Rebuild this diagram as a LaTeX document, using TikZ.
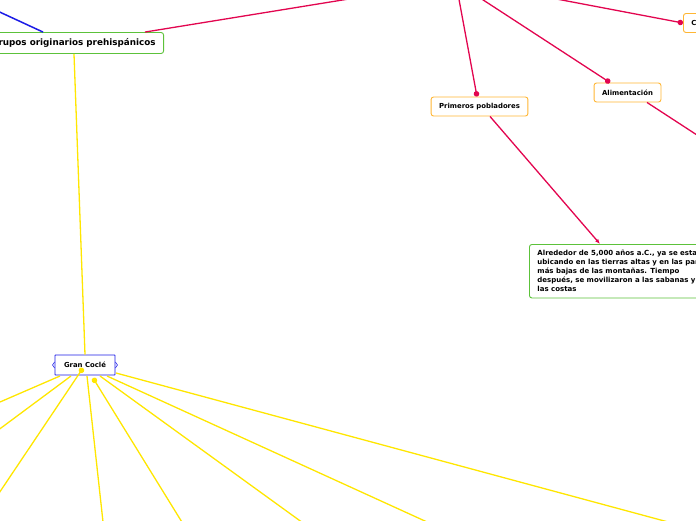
\documentclass[tikz,border=0pt]{standalone}
\usepackage{fontspec}
\setmainfont{DejaVu Sans}
\usetikzlibrary{arrows.meta}
\definecolor{crimson}{HTML}{E2054F}
\definecolor{amber}{HTML}{FFB633}
\definecolor{leaf}{HTML}{5CC23A}
\definecolor{royal}{HTML}{1C1CE6}
\definecolor{lemon}{HTML}{FFE600}

\begin{document}
\begin{tikzpicture}[x=1pt,y=-1pt,font=\bfseries,
  topic/.style={draw,rounded corners=2.5pt,fill=white,line width=0.9pt,inner xsep=8pt,minimum height=19pt,font=\bfseries\fontsize{6.9}{8}\selectfont},
  redline/.style={crimson,line width=1.3pt},
  yelline/.style={lemon,line width=1.3pt},
  dot/.style={-{Circle[length=5.5pt]}}]
  \useasboundingbox (0,0) rectangle (696,520);
  \clip (0,0) rectangle (696,520);
  % off-canvas ends
  \coordinate (root1) at (361,-3);
  \coordinate (root2) at (458,-6);
  \coordinate (root3) at (474,-6);
  \coordinate (root4) at (546,-3);
  \coordinate (west) at (-22,2);
  \coordinate (east) at (720,150);

  \node[topic,draw=leaf,font=\bfseries\fontsize{8.8}{10}\selectfont,minimum height=21pt,anchor=east] (grupos) at (164,43) {Grupos originarios prehispánicos};
  \node[topic,draw=royal,minimum height=20pt,minimum width=60pt,inner xsep=4pt,rounded corners=0.5pt] (coc) at (85,365) {Gran Coclé};
  \node[topic,draw=amber] (pobl) at (479.5,106.5) {Primeros pobladores};
  \node[topic,draw=amber] (alim) at (627.5,92.5) {Alimentación};
  \node[topic,draw=amber,anchor=west] (cult) at (683,23) {Cultura};
  \node[topic,draw=leaf,anchor=north west,align=left,inner xsep=8pt,inner ysep=6pt,font=\bfseries\fontsize{7}{9}\selectfont] (alred) at (529,244)
    {Alrededor de 5,000 años a.C., ya se estaban\\ubicando en las tierras altas y en las partes\\más bajas de las montañas. Tiempo\\después, se movilizaron a las sabanas y\\las costas};

  \draw[royal,line width=1.5pt] (grupos.north -| 43,0) -- (west);
  \draw[redline] (grupos.north -| 145,0) -- (root1);
  \draw[redline,dot] (root2) -- (pobl.north -| 477,0);
  \draw[redline,dot] (root3) -- (alim.north -| 610,0);
  \draw[redline,dot] (root4) -- (cult.west);
  \draw[redline,-{Latex[length=5pt,width=4pt]}] (pobl.south -| 490,0) -- (alred.north -| 600,0);
  \draw[redline] (alim.south -| 647,0) -- (east);
  \draw[yelline] (grupos.south -| 74,0) -- (coc.north);

  % side markers
  \draw[royal,line width=0.6pt] (coc.west)+(0,-3) -- +(-2,0) -- +(0,3);
  \draw[royal,line width=0.6pt] (coc.east)+(0,-3) -- +(2,0) -- +(0,3);

  % spokes of Gran Cocle
  \foreach \sx/\sy/\ex/\ey [count=\i] in {60/376/-30/415, 71/376/-30/451, 100/376/321/536, 107/376/460/537, 116/373/720/536, 87/376/105/540}{
    \coordinate (s\i) at (\sx,\sy);
    \coordinate (e\i) at (\ex,\ey);
    \draw[yelline] (s\i) -- (e\i);
  }
  \coordinate (s7) at (83,368);
  \coordinate (e7) at (-15,514);
  \coordinate (s8) at (93,378);
  \coordinate (e8) at (193,540);
  \draw[yelline,{Circle[length=5.5pt]}-] (s7) -- (e7);
  \draw[yelline,{Circle[length=5.5pt]}-] (s8) -- (e8);
\end{tikzpicture}
\end{document}
